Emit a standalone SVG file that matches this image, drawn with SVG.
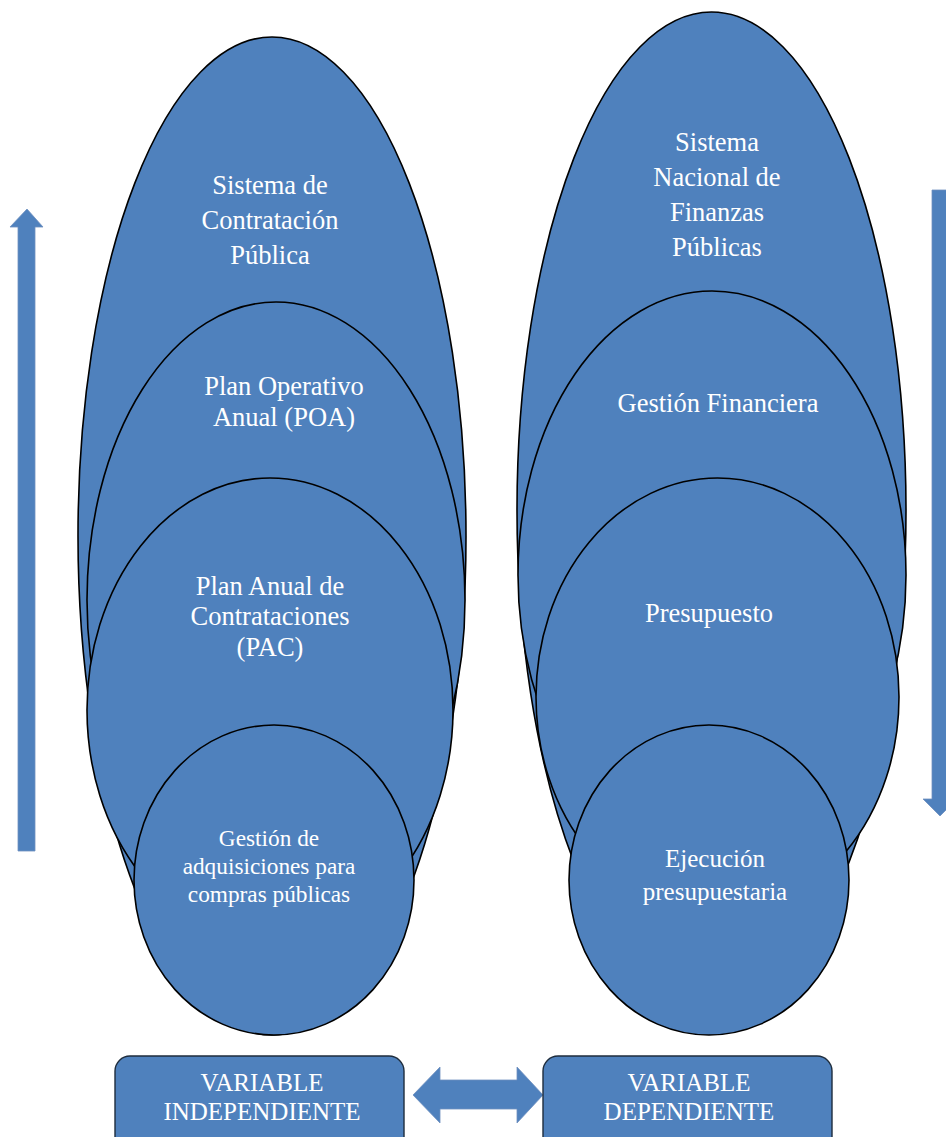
<svg xmlns="http://www.w3.org/2000/svg" width="946" height="1137" viewBox="0 0 946 1137">
<style>
.e{fill:#4F81BD;stroke:#000;stroke-width:1.6}
.b{fill:#4F81BD;stroke:#1f2d3d;stroke-width:1.4}
.a{fill:#4F81BD;stroke:#6f8fbf;stroke-width:0.8}
.t{font-family:"Liberation Serif","Times New Roman",serif;fill:#fff;text-anchor:middle;font-size:26.5px}
.s{font-size:23.3px}
.m{font-size:25px}
</style>
<rect width="946" height="1137" fill="#fff"/>
<g id="connectors">
<path class="a" d="M18,851 L18,227 L10,227 L27,209 L43,227 L35,227 L35,851 Z"/>
<path class="a" d="M932,190 L948,190 L948,799 L957,799 L940,816 L923,799 L932,799 Z"/>
<path class="a" d="M413,1095 L440,1067 L440,1080 L517,1080 L517,1067 L543,1095 L517,1123 L517,1109 L440,1109 L440,1123 Z"/>
</g>
<g id="left-sistema-contratacion">
<ellipse class="e" cx="272" cy="536" rx="194" ry="499"/>
<text class="t" x="270" y="194">Sistema de</text>
<text class="t" x="270" y="229">Contratación</text>
<text class="t" x="270" y="264">Pública</text>
</g>
<g id="left-poa">
<ellipse class="e" cx="276" cy="600" rx="189" ry="298"/>
<text class="t" x="284" y="395">Plan Operativo</text>
<text class="t" x="284" y="426">Anual (POA)</text>
</g>
<g id="left-pac">
<ellipse class="e" cx="270" cy="710" rx="183" ry="232"/>
<text class="t" x="270" y="595">Plan Anual de</text>
<text class="t" x="270" y="625">Contrataciones</text>
<text class="t" x="270" y="656">(PAC)</text>
</g>
<g id="left-gestion">
<ellipse class="e" cx="274" cy="880" rx="140" ry="155"/>
<text class="t s" x="269" y="846">Gestión de</text>
<text class="t s" x="269" y="874">adquisiciones para</text>
<text class="t s" x="269" y="902">compras públicas</text>
</g>
<g id="right-sistema-finanzas">
<ellipse class="e" cx="711.5" cy="510" rx="194.5" ry="498"/>
<text class="t" x="717" y="151">Sistema</text>
<text class="t" x="717" y="186">Nacional de</text>
<text class="t" x="717" y="221">Finanzas</text>
<text class="t" x="717" y="256">Públicas</text>
</g>
<g id="right-gestion-financiera">
<ellipse class="e" cx="712" cy="575" rx="194" ry="284"/>
<text class="t" x="718" y="412">Gestión Financiera</text>
</g>
<g id="right-presupuesto">
<ellipse class="e" cx="717.5" cy="697" rx="181.5" ry="219"/>
<text class="t" x="709" y="622">Presupuesto</text>
</g>
<g id="right-ejecucion">
<ellipse class="e" cx="709" cy="880" rx="140" ry="155"/>
<text class="t m" x="715" y="867">Ejecución</text>
<text class="t m" x="715" y="900">presupuestaria</text>
</g>
<g id="box-independiente">
<rect class="b" x="115" y="1056" width="289" height="100" rx="15"/>
<text class="t m" x="262" y="1091">VARIABLE</text>
<text class="t m" x="262" y="1120">INDEPENDIENTE</text>
</g>
<g id="box-dependiente">
<rect class="b" x="543" y="1056" width="289" height="100" rx="15"/>
<text class="t m" x="689" y="1091">VARIABLE</text>
<text class="t m" x="689" y="1120">DEPENDIENTE</text>
</g>
</svg>
